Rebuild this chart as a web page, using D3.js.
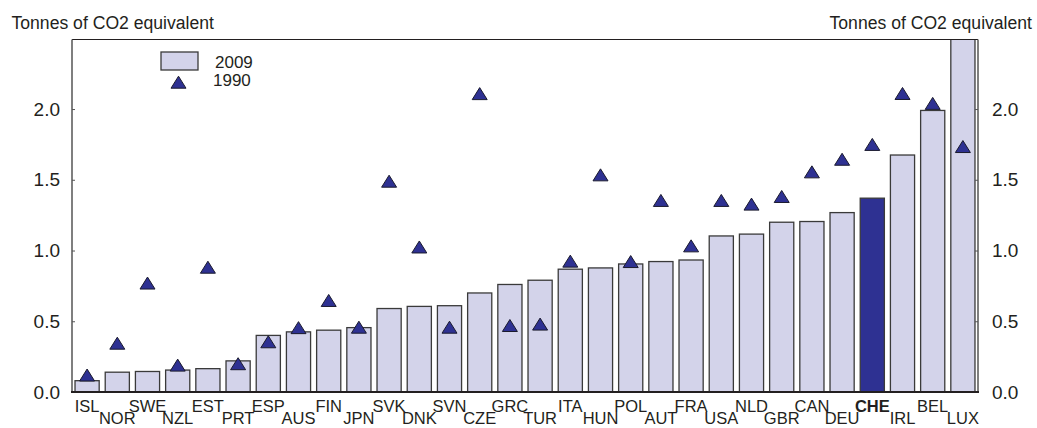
<!DOCTYPE html>
<html><head><meta charset="utf-8">
<script src="https://cdn.jsdelivr.net/npm/d3@7/dist/d3.min.js"></script>
<style>
body{margin:0;background:#fff;}
text{font-family:"Liberation Sans",Arial,sans-serif;fill:#231f20;}
</style></head><body>
<svg id="chart" width="1037" height="428"></svg>
<script>
const countries = ["ISL","NOR","SWE","NZL","EST","PRT","ESP","AUS","FIN","JPN","SVK","DNK","SVN","CZE","GRC","TUR","ITA","HUN","POL","AUT","FRA","USA","NLD","GBR","CAN","DEU","CHE","IRL","BEL","LUX"];
const values2009 = [0.08,0.14,0.145,0.155,0.165,0.22,0.40,0.425,0.437,0.455,0.59,0.605,0.61,0.70,0.76,0.79,0.868,0.877,0.905,0.922,0.933,1.103,1.116,1.200,1.205,1.268,1.370,1.675,1.99,2.75];
const values1990 = [0.12,0.345,0.77,0.19,0.882,0.20,0.355,0.455,0.647,0.458,1.49,1.025,0.458,2.109,0.47,0.48,0.925,1.535,0.922,1.354,1.033,1.354,1.328,1.382,1.556,1.645,1.75,2.11,2.04,1.735];
const yTicks = [0,0.5,1.0,1.5,2.0];
const highlight = "CHE";
const unitLabel = "Tonnes of CO2 equivalent";
const legendLabels = ["2009","1990"];

const mL=72,mR=978,mT=39.5,mB=392;
const svg=d3.select("#chart");
const x=d3.scaleBand().domain(countries).range([mL,mR]).paddingInner(0.2).paddingOuter(0.1);
const y=d3.scaleLinear().domain([0,2.5]).range([mB,mT-1.2]);

const barFill="#d3d3ea", hiFill="#2e3192", triFill="#2e3192";

svg.append("defs").append("clipPath").attr("id","plotclip").append("rect")
  .attr("x",mL).attr("y",mT).attr("width",mR-mL).attr("height",mB-mT+2);

// bars
svg.append("g").attr("clip-path","url(#plotclip)").selectAll("rect").data(countries).join("rect")
  .attr("x",d=>x(d)).attr("width",x.bandwidth())
  .attr("y",(d,i)=>y(values2009[i])).attr("height",(d,i)=>mB-y(values2009[i]))
  .attr("fill",d=>d===highlight?hiFill:barFill)
  .attr("stroke","#3a3a3a").attr("stroke-width",1.3);

// triangles
const tri=(cx,cy)=>`M${cx-7.5},${cy+6}L${cx+7.5},${cy+6}L${cx},${cy-6}Z`;
svg.append("g").selectAll("path").data(countries).join("path")
  .attr("d",(d,i)=>tri(x(d)+x.bandwidth()/2,y(values1990[i])))
  .attr("fill",triFill).attr("stroke","#1a1a2e").attr("stroke-width",1);

// frame top
svg.append("line").attr("x1",mL).attr("x2",mR).attr("y1",mT).attr("y2",mT)
  .attr("stroke","#231f20").attr("stroke-width",1.2);

// left axis
const ga=svg.append("g").attr("transform",`translate(${mL},0)`)
  .call(d3.axisLeft(y).tickValues(yTicks).tickFormat(d3.format(".1f")).tickSize(-3).tickPadding(12));
ga.select(".domain").attr("d",`M0,${mT}V${mB}`).attr("stroke","#555").attr("stroke-width",1.5);
ga.selectAll(".tick line").attr("stroke","#555");
ga.selectAll("text").style("font-size","19px").attr("fill","#231f20");

const gb=svg.append("g").attr("transform",`translate(${mR},0)`)
  .call(d3.axisRight(y).tickValues(yTicks).tickFormat(d3.format(".1f")).tickSize(-3).tickPadding(14));
gb.select(".domain").attr("d",`M0,${mT}V${mB}`).attr("stroke","#555").attr("stroke-width",1.5);
gb.selectAll(".tick line").attr("stroke","#555");
gb.selectAll("text").style("font-size","19px").attr("fill","#231f20");

// bottom axis
svg.append("line").attr("x1",mL-1).attr("x2",mR+1).attr("y1",mB).attr("y2",mB)
  .attr("stroke","#231f20").attr("stroke-width",2);

// x labels staggered
svg.append("g").selectAll("text").data(countries).join("text")
  .attr("x",d=>x(d)+x.bandwidth()/2)
  .attr("y",(d,i)=>i%2===0?411.8:424.3)
  .attr("text-anchor","middle")
  .style("font-size","16.5px")
  .style("font-weight",d=>d===highlight?"bold":"normal")
  .text(d=>d);

// unit titles
svg.append("text").attr("x",11.5).attr("y",29).style("font-size","17.6px").text(unitLabel);
svg.append("text").attr("x",1032).attr("y",29).attr("text-anchor","end").style("font-size","17.6px").text(unitLabel);

// legend
svg.append("rect").attr("x",161).attr("y",52).attr("width",37).attr("height",18)
  .attr("fill",barFill).attr("stroke","#3a3a3a").attr("stroke-width",1.3);
svg.append("text").attr("x",215).attr("y",68.3).style("font-size","17px").text(legendLabels[0]);
svg.append("path").attr("d",tri(178.5,82.2)).attr("fill",triFill).attr("stroke","#1a1a2e").attr("stroke-width",1);
svg.append("text").attr("x",213).attr("y",86).style("font-size","17px").text(legendLabels[1]);
</script>
</body></html>
